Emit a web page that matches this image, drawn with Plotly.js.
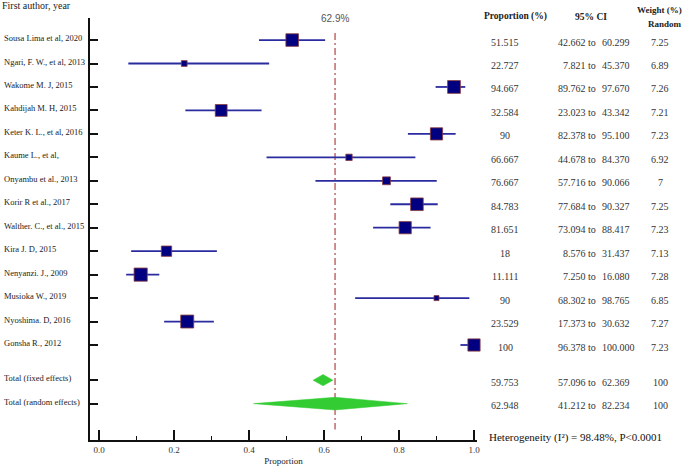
<!DOCTYPE html>
<html>
<head>
<meta charset="utf-8">
<script src="https://cdn.plot.ly/plotly-3.0.1.min.js"></script>
<style>html,body{margin:0;padding:0;background:#fff;}#chart{width:685px;height:469px;}</style>
</head>
<body>
<div id="chart"></div>
<script>
// ---- data ----
const studies = ["Sousa Lima et al, 2020","Ngari, F. W., et al, 2013","Wakome M. J, 2015","Kahdijah M. H, 2015","Keter K. L., et al, 2016","Kaume L., et al,","Onyambu et al., 2013","Korir R et al., 2017","Walther. C., et al., 2015","Kira J. D, 2015","Nenyanzi. J., 2009","Musioka W., 2019","Nyoshima. D, 2016","Gonsha R., 2012"];
const proportion = [51.515,22.727,94.667,32.584,90,66.667,76.667,84.783,81.651,18,11.111,90,23.529,100];
const ciLow  = [42.662,7.821,89.762,23.023,82.378,44.678,57.716,77.684,73.094,8.576,7.250,68.302,17.373,96.378];
const ciHigh = [60.299,45.370,97.670,43.342,95.100,84.370,90.066,90.327,88.417,31.437,16.080,98.765,30.632,100.000];
const weightRandom = ["7.25","6.89","7.26","7.21","7.23","6.92","7","7.25","7.23","7.13","7.28","6.85","7.27","7.23"];
const totalLabels = ["Total (fixed effects)","Total (random effects)"];
const totalProp = [59.753,62.948];
const totalLow  = [57.096,41.212];
const totalHigh = [62.369,82.234];
const totalWeight = ["100","100"];
const heterogeneity = "Heterogeneity (I\u00b2) = 98.48%, P<0.0001";

// ---- layout helpers ----
const n = studies.length;
const studyPos = studies.map((_, i) => i);
const totalPos = [n + 0.5, n + 1.5];
const allLabels = studies.concat(totalLabels);
const allPos = studyPos.concat(totalPos);
const allProp = proportion.concat(totalProp);
const allLow = ciLow.concat(totalLow);
const allHigh = ciHigh.concat(totalHigh);
const allWeight = weightRandom.concat(totalWeight);

const L = 90, R = 208, T = 18, B = 29, W = 685, H = 469;
const pw = W - L - R, ph = H - T - B;
const px2paperX = px => (px - L) / pw;
const px2paperY = py => (H - B - py) / ph;

const serif = "'Liberation Serif', 'Times New Roman', serif";

const traces = [];
// study points with CIs
traces.push({
  type: 'scatter', mode: 'markers', cliponaxis: false,
  x: proportion.map(v => v / 100),
  y: studyPos,
  error_x: {
    type: 'data', symmetric: false,
    array: proportion.map((v, i) => (ciHigh[i] - v) / 100),
    arrayminus: proportion.map((v, i) => (v - ciLow[i]) / 100),
    width: 0, thickness: 1.8, color: '#2b2ba0'
  },
  marker: {
    symbol: 'square', color: '#000080', opacity: 1,
    size: weightRandom.map(w => 5 + (parseFloat(w) - 6.85) * 19),
    line: {color: '#8a3c3c', width: 0.8}
  },
  hoverinfo: 'skip', showlegend: false
});
// diamonds for totals
const halfH = [0.24, 0.27];
totalProp.forEach((p, k) => {
  const y0 = totalPos[k];
  traces.push({
    type: 'scatter', mode: 'lines', fill: 'toself', cliponaxis: false,
    x: [totalLow[k] / 100, p / 100, totalHigh[k] / 100, p / 100, totalLow[k] / 100],
    y: [y0, y0 - halfH[k], y0, y0 + halfH[k], y0],
    fillcolor: '#33cc33', line: {color: '#33cc33', width: 0.5},
    hoverinfo: 'skip', showlegend: false
  });
});

const pooled = totalProp[1] / 100;

const annotations = [];
allLabels.forEach((lab, i) => {
  annotations.push({xref: 'paper', yref: 'y', x: px2paperX(2), y: allPos[i], xanchor: 'left', yanchor: 'middle',
    text: lab, showarrow: false, yshift: 2, font: {family: serif, size: 8.5, color: '#222'}});
  annotations.push({xref: 'paper', yref: 'y', x: px2paperX(505), y: allPos[i], xanchor: 'center', yanchor: 'middle',
    text: String(allProp[i]), showarrow: false, yshift: -2, font: {family: serif, size: 10, color: '#333'}});
  annotations.push({xref: 'paper', yref: 'y', x: px2paperX(598), y: allPos[i], xanchor: 'right', yanchor: 'middle',
    text: allLow[i].toFixed(3) + ' to', showarrow: false, yshift: -2, font: {family: serif, size: 10, color: '#333'}});
  annotations.push({xref: 'paper', yref: 'y', x: px2paperX(600), y: allPos[i], xanchor: 'left', yanchor: 'middle',
    text: allHigh[i].toFixed(3), showarrow: false, yshift: -2, font: {family: serif, size: 10, color: '#333'}});
  annotations.push({xref: 'paper', yref: 'y', x: px2paperX(660), y: allPos[i], xanchor: 'center', yanchor: 'middle',
    text: allWeight[i], showarrow: false, yshift: -2, font: {family: serif, size: 10, color: '#333'}});
});
// headers
const hdr = {family: serif, size: 9.5, color: '#222'};
annotations.push({xref: 'paper', yref: 'paper', x: px2paperX(515), y: px2paperY(17), xanchor: 'center', yanchor: 'middle', text: '<b>Proportion (%)</b>', showarrow: false, font: hdr});
annotations.push({xref: 'paper', yref: 'paper', x: px2paperX(591), y: px2paperY(17), xanchor: 'center', yanchor: 'middle', text: '<b>95% CI</b>', showarrow: false, font: hdr});
annotations.push({xref: 'paper', yref: 'paper', x: px2paperX(684), y: px2paperY(10), xanchor: 'right', yanchor: 'middle', text: '<b>Weight (%)</b>', showarrow: false, font: {family: serif, size: 9, color: '#222'}});
annotations.push({xref: 'paper', yref: 'paper', x: px2paperX(665), y: px2paperY(24), xanchor: 'center', yanchor: 'middle', text: '<b>Random</b>', showarrow: false, font: {family: serif, size: 9, color: '#222'}});
annotations.push({xref: 'paper', yref: 'paper', x: px2paperX(0), y: px2paperY(6), xanchor: 'left', yanchor: 'middle', text: 'First author, year', showarrow: false, font: {family: serif, size: 10, color: '#222'}});
annotations.push({xref: 'x', yref: 'paper', x: pooled, y: px2paperY(18), xanchor: 'center', yanchor: 'middle', text: (pooled * 100).toFixed(1) + '%', showarrow: false, font: {family: "'Liberation Sans', Arial, sans-serif", size: 10, color: '#555'}});
annotations.push({xref: 'paper', yref: 'paper', x: px2paperX(487), y: px2paperY(437), xanchor: 'left', yanchor: 'middle', text: heterogeneity, showarrow: false, font: {family: serif, size: 11, color: '#111'}});

const layout = {
  width: W, height: H,
  margin: {l: L, r: R, t: T, b: B, pad: 0},
  paper_bgcolor: '#fff', plot_bgcolor: '#fff',
  showlegend: false,
  xaxis: {
    range: [-0.024, 1.008], fixedrange: true,
    tickvals: [0, 0.2, 0.4, 0.6, 0.8, 1.0],
    ticktext: ['0.0', '0.2', '0.4', '0.6', '0.8', '1.0'],
    ticks: 'inside', ticklen: 10, tickwidth: 2, tickcolor: '#111',
    minor: {dtick: 0.1, tick0: 0, ticks: 'inside', ticklen: 4, tickwidth: 1.5, tickcolor: '#111', showgrid: false},
    showline: true, linewidth: 2, linecolor: '#111',
    showgrid: false, zeroline: false,
    tickfont: {family: serif, size: 9, color: '#333'},
    title: {text: 'Proportion', font: {family: serif, size: 9, color: '#222'}, standoff: 4}
  },
  yaxis: {
    range: [17.05, -0.94], fixedrange: true,
    tickvals: allPos, showticklabels: false,
    ticks: 'inside', ticklen: 8, tickwidth: 2, tickcolor: '#111',
    showline: true, linewidth: 2, linecolor: '#111',
    showgrid: false, zeroline: false
  },
  shapes: [{
    type: 'line', xref: 'x', yref: 'y', x0: pooled, x1: pooled, y0: -0.3, y1: 16.6,
    line: {color: '#c06a6a', width: 1.5, dash: '7px,3px,2px,3px'}, layer: 'below'
  }],
  annotations: annotations
};

Plotly.newPlot('chart', traces, layout, {displayModeBar: false, staticPlot: true});
</script>
</body>
</html>
